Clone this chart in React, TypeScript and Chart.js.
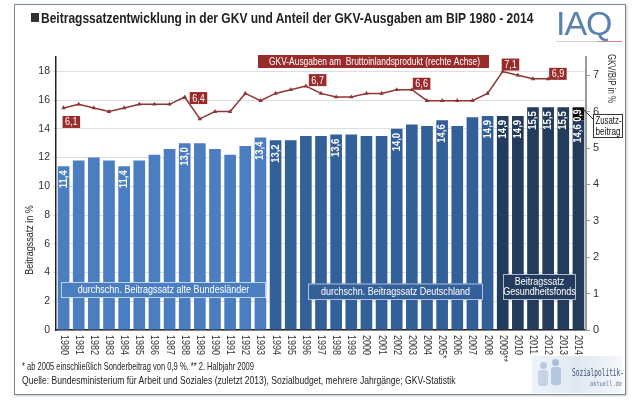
import React, { useEffect, useRef } from "react";
import { Chart, registerables } from "chart.js";

Chart.register(...registerables);

const FONT = '"Liberation Sans", Arial, Helvetica, sans-serif';
const TICK_FONT = '"Liberation Sans Narrow", "Liberation Sans", Arial, sans-serif';
const NARROW = 0.82;

// ---------- data ----------
const years = [
  "1980", "1981", "1982", "1983", "1984", "1985", "1986", "1987", "1988", "1989",
  "1990", "1991", "1992", "1993", "1994", "1995", "1996", "1997", "1998", "1999",
  "2000", "2001", "2002", "2003", "2004", "2005*", "2006", "2007", "2008", "2009**",
  "2010", "2011", "2012", "2013", "2014",
];

const beitragssatz = [
  11.4, 11.8, 12.0, 11.8, 11.4, 11.8, 12.2, 12.6, 13.0, 13.0,
  12.6, 12.2, 12.8, 13.4, 13.2, 13.2, 13.5, 13.5, 13.6, 13.6,
  13.5, 13.5, 14.0, 14.3, 14.2, 14.6, 14.2, 14.8, 14.9, 14.9,
  14.9, 15.5, 15.5, 15.5, 14.6,
];

const zusatzbeitrag: (number | null)[] = [
  null, null, null, null, null, null, null, null, null, null,
  null, null, null, null, null, null, null, null, null, null,
  null, null, null, null, null, null, null, null, null, null,
  null, null, null, null, 0.9,
];

const gkvBip: (number | null)[] = [
  6.1, 6.2, 6.1, 6.0, 6.1, 6.2, 6.2, 6.2, 6.4, 5.8,
  6.0, 6.0, 6.5, 6.3, 6.5, 6.6, 6.7, 6.5, 6.4, 6.4,
  6.5, 6.5, 6.6, 6.6, 6.3, 6.3, 6.3, 6.3, 6.5, 7.1,
  7.0, 6.9, 6.9, null, null,
];

const labeledBars = ["1980", "1984", "1988", "1993", "1994", "1998", "2002", "2005*", "2008", "2009**", "2010", "2011", "2012", "2013", "2014"];
const labeledLine = ["1980", "1988", "1996", "2003", "2009**", "2012"];

const periodLabels = ["durchschn. Beitragssatz alte Bundesländer", "durchschn. Beitragssatz Deutschland", "Beitragssatz\nGesundheitsfonds"];
const periodStart = ["1980", "1994", "2009**"];

const leftTicks = [0, 2, 4, 6, 8, 10, 12, 14, 16, 18];
const rightTicks = [0, 1, 2, 3, 4, 5, 6, 7];

const titleText = "Beitragssatzentwicklung in der GKV und Anteil der GKV-Ausgaben am BIP 1980 - 2014";
const lineLegendText = "GKV-Ausgaben am  Bruttoinlandsprodukt (rechte Achse)";
const leftAxisTitle = "Beitragssatz in %";
const rightAxisTitle = "GKV/BIP in %";
const zusatzText = ["Zusatz-", "beitrag"];
const footnote1 = "* ab 2005 einschließlich Sonderbeitrag von 0,9 %. ** 2. Halbjahr 2009";
const footnote2 = "Quelle: Bundesministerium für Arbeit und Soziales (zuletzt 2013), Sozialbudget, mehrere Jahrgänge; GKV-Statistik";

// ---------- styles ----------
const periodColors = ["#4a7ec0", "#34609a", "#233b5c"];
const periodBorders = ["#bcd2ec", "#a9c0de", "#a9b8cc"];
const periodBoxes = [
  { x: 61, y: 282, w: 205, h: 16 },
  { x: 308, y: 283.5, w: 175, h: 16.5 },
  { x: 503, y: 274, w: 73, h: 26 },
];
const lineLabelOffsets: Record<string, [number, number]> = {
  "1980": [-1, 8],
  "1988": [5, -5],
  "1996": [3, -12],
  "2003": [1, -12],
  "2009**": [-1, -13],
  "2012": [1, -11],
};
const RED = "#8e3535";
const RED_BOX = "#9a2b2b";

const fmt = (v: number) => v.toFixed(1).replace(".", ",");

function drawText(ctx: CanvasRenderingContext2D, text: string, x: number, y: number, o: any) {
  ctx.save();
  ctx.font = o.font;
  ctx.fillStyle = o.color || "#222";
  ctx.textAlign = o.align || "left";
  ctx.textBaseline = o.baseline || "middle";
  const w = ctx.measureText(text).width;
  const sx = o.width ? o.width / w : o.sx ?? 1;
  ctx.translate(x, y);
  if (o.rot) ctx.rotate(o.rot);
  ctx.scale(sx, 1);
  ctx.fillText(text, 0, 0);
  ctx.restore();
}

const overlayPlugin = {
  id: "overlay",
  afterDatasetsDraw(chart: any) {
    const ctx: CanvasRenderingContext2D = chart.ctx;
    const barMeta = chart.getDatasetMeta(0);
    const topMeta = chart.getDatasetMeta(1);
    const lineMeta = chart.getDatasetMeta(2);

    // bar value labels
    ctx.save();
    ctx.font = `bold 11px ${FONT}`;
    const vsx = 18 / ctx.measureText("11,4").width;
    ctx.restore();
    labeledBars.forEach((lbl) => {
      const i = years.indexOf(lbl);
      const el = barMeta.data[i];
      drawText(ctx, fmt(beitragssatz[i]), el.x, el.y + 4, {
        font: `bold 11px ${FONT}`, color: "#ffffff", align: "right", rot: -Math.PI / 2, sx: vsx,
      });
    });

    // Zusatzbeitrag label + connector + box
    const zi = zusatzbeitrag.findIndex((v) => v != null);
    const zel = topMeta.data[zi];
    drawText(ctx, fmt(zusatzbeitrag[zi] as number), zel.x, zel.y + 2, {
      font: `bold 11px ${FONT}`, color: "#ffffff", align: "right", rot: -Math.PI / 2, sx: vsx * 0.92,
    });
    ctx.save();
    ctx.strokeStyle = "#222";
    ctx.lineWidth = 1;
    ctx.beginPath();
    ctx.moveTo(zel.x + zel.width / 2 - 1, zel.y + 2);
    ctx.lineTo(594, 120);
    ctx.stroke();
    ctx.fillStyle = "#ffffff";
    ctx.fillRect(593.5, 114.5, 29, 23);
    ctx.strokeStyle = "#333";
    ctx.strokeRect(593.5, 114.5, 29, 23);
    ctx.restore();
    drawText(ctx, zusatzText[0], 595.5, 121, { font: `11px ${FONT}`, color: "#111", width: 26 });
    drawText(ctx, zusatzText[1], 595.5, 132, { font: `11px ${FONT}`, color: "#111", width: 25 });

    // period boxes
    periodLabels.forEach((t, k) => {
      const b = periodBoxes[k];
      ctx.save();
      ctx.fillStyle = periodColors[k];
      ctx.fillRect(b.x, b.y, b.w, b.h);
      ctx.strokeStyle = periodBorders[k];
      ctx.lineWidth = 1;
      ctx.strokeRect(b.x + 0.5, b.y + 0.5, b.w - 1, b.h - 1);
      ctx.restore();
      const lines = t.split("\n");
      const cx = b.x + b.w / 2;
      lines.forEach((ln, j) => {
        const cy = b.y + b.h / 2 + (j - (lines.length - 1) / 2) * 9.5;
        drawText(ctx, ln, cx, cy, { font: `11px ${FONT}`, color: "#ffffff", align: "center", sx: NARROW });
      });
    });

    // line label boxes
    labeledLine.forEach((lbl) => {
      const i = years.indexOf(lbl);
      const p = lineMeta.data[i];
      const [dx, dy] = lineLabelOffsets[lbl];
      const txt = fmt(gkvBip[i] as number);
      ctx.save();
      ctx.font = `11px ${FONT}`;
      const tw = ctx.measureText(txt).width * NARROW;
      const bw = tw + 5;
      ctx.fillStyle = RED_BOX;
      ctx.fillRect(p.x + dx, p.y + dy, bw, 12);
      ctx.restore();
      drawText(ctx, txt, p.x + dx + bw / 2, p.y + dy + 6.5, { font: `11px ${FONT}`, color: "#fff", align: "center", sx: NARROW });
    });

    // legend box for line
    ctx.save();
    ctx.fillStyle = RED_BOX;
    ctx.fillRect(258, 55, 231, 13);
    ctx.restore();
    drawText(ctx, lineLegendText, 269, 61.5, { font: `11px ${FONT}`, color: "#fff", width: 211 });
  },
  afterDraw(chart: any) {
    const ctx: CanvasRenderingContext2D = chart.ctx;
    const xs = chart.scales.x;
    ctx.save();
    ctx.font = `11px ${FONT}`;
    const lsx = 20 / ctx.measureText("1980").width;
    ctx.restore();
    years.forEach((y, i) => {
      const x = xs.getPixelForValue(i);
      drawText(ctx, y, x, 335, { font: `11px ${FONT}`, color: "#333", align: "left", rot: Math.PI / 2, sx: lsx });
    });
    drawText(ctx, leftAxisTitle, 30, 240, { font: `11px ${FONT}`, color: "#222", align: "center", rot: -Math.PI / 2, sx: NARROW });
    drawText(ctx, rightAxisTitle, 611, 54, { font: `11px ${FONT}`, color: "#333", align: "left", rot: Math.PI / 2, width: 49 });
  },
};

const measureCtx: CanvasRenderingContext2D | null =
  typeof document !== "undefined" ? document.createElement("canvas").getContext("2d") : null;

function FitText(props: { text: string; x: number; y: number; width: number; size: number; color?: string; weight?: string; family?: string }) {
  const { text, x, y, width, size, color, weight } = props;
  const family = props.family || FONT;
  let sx = 1;
  if (measureCtx) {
    measureCtx.font = `${weight || "normal"} ${size}px ${family}`;
    const w = measureCtx.measureText(text).width;
    if (w > 0) sx = width / w;
  }
  return (
    <div
      style={{
        position: "absolute", left: x, top: y, whiteSpace: "nowrap",
        fontFamily: family, fontSize: size, fontWeight: (weight as any) || "normal",
        lineHeight: 1, color: color || "#222",
        transform: `scaleX(${sx})`, transformOrigin: "left top",
      }}
    >
      {text}
    </div>
  );
}

export default function App() {
  const ref = useRef<HTMLCanvasElement>(null);

  useEffect(() => {
    if (!ref.current) return;
    const barColors = beitragssatz.map((_, i) => {
      const p1 = years.indexOf(periodStart[1]);
      const p2 = years.indexOf(periodStart[2]);
      return i < p1 ? periodColors[0] : i < p2 ? periodColors[1] : periodColors[2];
    });
    const chart = new Chart(ref.current, {
      type: "bar",
      data: {
        labels: years,
        datasets: [
          {
            type: "bar", label: "Beitragssatz", data: beitragssatz, backgroundColor: barColors,
            yAxisID: "y", stack: "s", categoryPercentage: 0.77, barPercentage: 1, borderWidth: 0,
          } as any,
          {
            type: "bar", label: "Zusatzbeitrag", data: zusatzbeitrag, backgroundColor: "#0c0c0c",
            yAxisID: "y", stack: "s", categoryPercentage: 0.77, barPercentage: 1, borderWidth: 0,
          } as any,
          {
            type: "line", label: "GKV/BIP", data: gkvBip, yAxisID: "y2",
            borderColor: RED, backgroundColor: RED, borderWidth: 1.5,
            pointStyle: "triangle", pointRadius: 2.6, pointBorderWidth: 0, tension: 0, spanGaps: false,
          } as any,
        ],
      },
      options: {
        responsive: false,
        maintainAspectRatio: false,
        devicePixelRatio: 1,
        animation: false,
        events: [],
        layout: { padding: { top: 57, left: 0, right: 0, bottom: 0 } },
        plugins: { legend: { display: false }, tooltip: { enabled: false }, title: { display: false } },
        scales: {
          x: {
            type: "category", stacked: true, offset: true,
            grid: { display: false, drawTicks: false },
            border: { display: true, color: "#222", width: 1.5 },
            ticks: { display: false },
            afterFit: (s: any) => { s.height = 73; },
          },
          y: {
            position: "left", stacked: true, min: 0, max: 19,
            ticks: { stepSize: 2, color: "#333", font: { size: 10.5, family: TICK_FONT }, padding: 3 },
            grid: { color: "#dedede", lineWidth: 1, tickLength: 3 },
            border: { color: "#222", width: 1.5 },
            afterBuildTicks: (s: any) => { s.ticks = leftTicks.map((v) => ({ value: v })); },
            afterFit: (s: any) => { s.width = 56; },
          },
          y2: {
            position: "right", min: 0, max: 7.5,
            ticks: { stepSize: 1, color: "#333", font: { size: 11, family: TICK_FONT }, padding: 3 },
            grid: { drawOnChartArea: false, color: "#999", tickLength: 4 },
            border: { color: "#9a9a9a", width: 2 },
            afterBuildTicks: (s: any) => { s.ticks = rightTicks.map((v) => ({ value: v })); },
            afterFit: (s: any) => { s.width = 52; },
          },
        },
      } as any,
      plugins: [overlayPlugin],
    });
    return () => chart.destroy();
  }, []);

  return (
    <div style={{ position: "fixed", left: 0, top: 0, width: 638, height: 403, background: "#fff", overflow: "hidden" }}>
      <div
        style={{
          position: "absolute", left: 14, top: 4, width: 610, height: 389,
          border: "1px solid #7b889a", boxShadow: "1px 1px 2px #c8c8c8", background: "#fff",
        }}
      />
      <canvas ref={ref} width={638} height={403} style={{ position: "absolute", left: 0, top: 0, width: 638, height: 403 }} />
      <div style={{ position: "absolute", left: 31, top: 13, width: 8, height: 9, background: "#333" }} />
      <FitText text={titleText} x={41} y={11} width={493} size={14} color="#222" weight="bold" />
      <div
        style={{
          position: "absolute", left: 556, top: 6, fontFamily: FONT, fontSize: 34, lineHeight: 1,
          color: "#5a82b0", letterSpacing: -1,
        }}
      >
        IAQ
      </div>
      <div style={{ position: "absolute", left: 556, top: 41, width: 42, height: 1, background: "#c9d3de" }} />
      <div style={{ position: "absolute", left: 598, top: 41, width: 24, height: 1, background: "#d98080" }} />
      <FitText text={footnote1} x={22} y={360.5} width={232} size={11} color="#222" />
      <FitText text={footnote2} x={22} y={374.5} width={434} size={11} color="#222" />
      <div
        style={{
          position: "absolute", left: 532, top: 356, width: 90, height: 37,
          background: "linear-gradient(90deg, #eef3f9 0%, #dfe8f2 50%, #f4f7fb 100%)",
        }}
      >
        <div style={{ position: "absolute", left: 8, top: 6, width: 7, height: 7, borderRadius: 4, background: "#b7c9de" }} />
        <div style={{ position: "absolute", left: 20, top: 3, width: 7, height: 7, borderRadius: 4, background: "#a9bfd8" }} />
        <div style={{ position: "absolute", left: 6, top: 14, width: 10, height: 16, borderRadius: 3, background: "#c6d5e6" }} />
        <div style={{ position: "absolute", left: 19, top: 11, width: 10, height: 18, borderRadius: 3, background: "#b4c7dd" }} />
      </div>
      <FitText text="Sozialpolitik-" x={572} y={368} width={52} size={10} color="#3a5573" family='"DejaVu Sans Mono", monospace' />
      <FitText text="aktuell.de" x={590} y={381} width={32} size={7} color="#6a819b" family='"DejaVu Sans Mono", monospace' />
    </div>
  );
}
